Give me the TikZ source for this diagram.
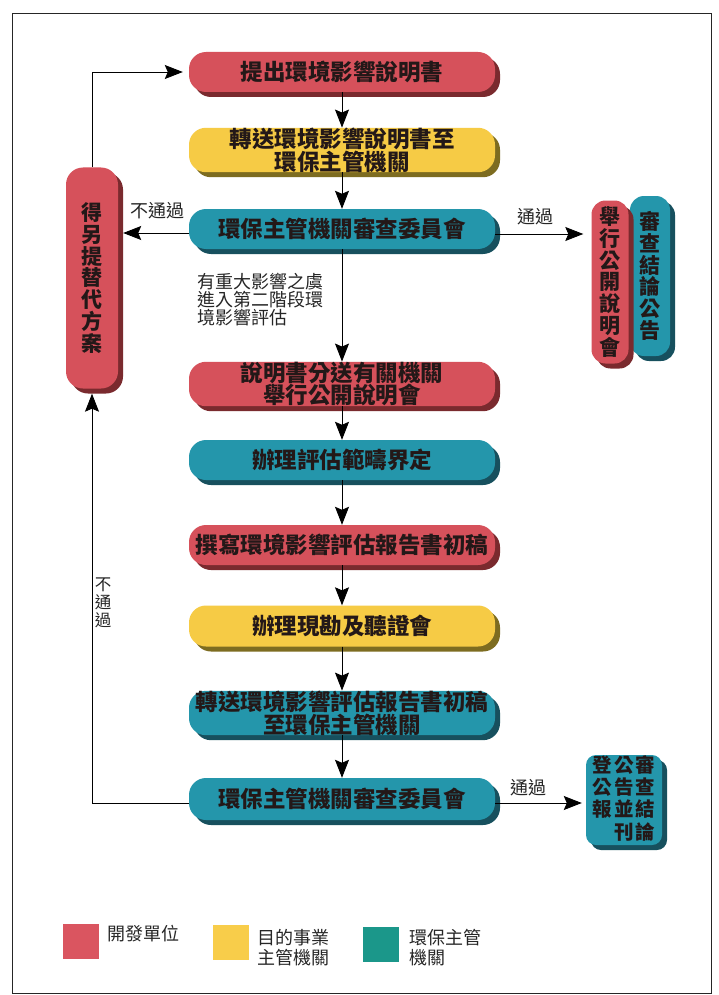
\documentclass[tikz,border=0pt]{standalone}
\usepackage{fontspec}
\setmainfont{Noto Sans CJK TC}
\usetikzlibrary{arrows.meta,shadows}
\definecolor{rf}{HTML}{D6515B}
\definecolor{rs}{HTML}{7A2A2E}
\definecolor{yf}{HTML}{F6CB45}
\definecolor{ys}{HTML}{7D6C20}
\definecolor{tf}{HTML}{2496AB}
\definecolor{ts}{HTML}{17505E}
\definecolor{lr}{HTML}{DA5560}
\definecolor{ly}{HTML}{F8CD4A}
\definecolor{lt}{HTML}{1B978A}
\definecolor{tx}{HTML}{231818}
\definecolor{lx}{HTML}{262626}
\newcommand\bxfont{\fontsize{22.5}{20}\selectfont\bfseries}
\newcommand\vtfont{\fontsize{21}{21.7}\selectfont\bfseries}
\newcommand\lbfont{\fontsize{18}{18}\selectfont}
\tikzset{
  box/.style={rounded corners=17pt, minimum width=306pt, minimum height=40pt,
    inner sep=0pt, align=center, text=tx, font=\bxfont},
  redbox/.style={box, fill=rf, drop shadow={shadow xshift=5pt, shadow yshift=-5pt, fill=rs, opacity=1}},
  yelbox/.style={box, fill=yf, drop shadow={shadow xshift=5pt, shadow yshift=-5pt, fill=ys, opacity=1}},
  tealbox/.style={box, fill=tf, drop shadow={shadow xshift=5pt, shadow yshift=-5pt, fill=ts, opacity=1}},
  vert/.style={font=\vtfont},
  arr/.style={line width=0.9pt, draw=black, -{Stealth[length=18pt,width=14pt,inset=3pt]}},
  lab/.style={text=lx, font=\lbfont, inner sep=0pt},
  legsq/.style={draw=none, minimum width=36pt, minimum height=35pt, inner sep=0pt}
}
\begin{document}
\begin{tikzpicture}[x=1pt,y=-1pt]
\useasboundingbox (0,0) rectangle (719,995);
\fill[white] (0,0) rectangle (719,995);
\draw[line width=0.8pt, black!85] (12,13) rectangle (711,993);

% main column
\node[redbox] (n1) at (342,72) {提出環境影響說明書};
\node[yelbox, minimum height=44pt] (n2) at (342,150) {轉送環境影響說明書至\\環保主管機關};
\node[tealbox] (n3) at (342,229) {環保主管機關審查委員會};
\node[redbox, minimum height=42pt] (n4) at (342,384) {說明書分送有關機關\\舉行公開說明會};
\node[tealbox] (n5) at (342,460) {辦理評估範疇界定};
\node[redbox] (n6) at (342,545) {撰寫環境影響評估報告書初稿};
\node[yelbox, minimum height=41pt] (n7) at (342,626) {辦理現勘及聽證會};
\node[tealbox, minimum height=43pt] (n8) at (342,713) {轉送環境影響評估報告書初稿\\至環保主管機關};
\node[tealbox, minimum height=42pt] (n9) at (342,799) {環保主管機關審查委員會};

% side boxes
\node[redbox, vert, minimum width=52pt, minimum height=221pt, rounded corners=17pt] (alt) at (92,278)
  {得\\另\\提\\替\\代\\方\\案};
\node[tealbox, vert, minimum width=40pt, minimum height=160pt, rounded corners=14pt] (pub1) at (650,276)
  {審\\查\\結\\論\\公\\告};
\node[redbox, vert, minimum width=37pt, minimum height=163pt, rounded corners=14pt] (pm) at (610,282)
  {舉\\行\\公\\開\\說\\明\\會};
\node[tealbox, minimum width=76pt, minimum height=90pt, rounded corners=10pt,
  font=\fontsize{19.5}{18.5}\selectfont\bfseries] (pub2) at (624,800)
  {\begin{tabular}{@{}c@{\hspace{2pt}}c@{\hspace{2pt}}c@{}}
   登&公&審\\ 公&告&查\\ 報&並&結\\ &刊&論
   \end{tabular}};

% connectors
\draw[arr] (n1) -- (n2);
\draw[arr] (n2) -- (n3);
\draw[arr] (n3) -- (n4);
\draw[arr] (n4) -- (n5);
\draw[arr] (n5) -- (n6);
\draw[arr] (n6) -- (n7);
\draw[arr] (n7) -- (n8);
\draw[arr] (n8) -- (n9);
\draw[arr, shorten >=8pt] ([yshift=-5pt]n3.east) -- ([yshift=-5pt]n3.east -| pm.west);
\draw[arr] ([yshift=-4pt]n3.west) -- ([yshift=-4pt,xshift=5pt]n3.west -| alt.east);
\draw[arr, shorten >=6pt] (alt.north) -- (alt.north |- n1.west) -- (n1.west);
\draw[arr] ([yshift=-4pt]n9.west) -| ([yshift=-5pt]alt.south);
\draw[arr, shorten >=4pt] ([yshift=-4pt]n9.east) -- ([yshift=-4pt]n9.east -| pub2.west);

% labels
\node[lab] (l1) at (157,211) {不通過};
\node[lab] (l2) at (535,217) {通過};
\node[lab, align=left, anchor=north west] (l3) at (197,273) {有重大影響之虞\\進入第二階段環\\境影響評估};
\node[lab, align=center, font=\fontsize{16.5}{18}\selectfont] (l4) at (103,603) {不\\通\\過};
\node[lab] (l5) at (528,788) {通過};

% legend
\node[legsq, fill=lr] (k1) at (81,941.5) {};
\node[lab, anchor=west] (k1t) at (107,934) {開發單位};
\node[legsq, fill=ly] (k2) at (230.5,942.5) {};
\node[lab, anchor=north west, align=left, font=\fontsize{18}{20}\selectfont] (k2t) at (257,929) {目的事業\\主管機關};
\node[legsq, fill=lt] (k3) at (380.5,944) {};
\node[lab, anchor=north west, align=left, font=\fontsize{18}{20}\selectfont] (k3t) at (409,929) {環保主管\\機關};
\end{tikzpicture}
\end{document}
